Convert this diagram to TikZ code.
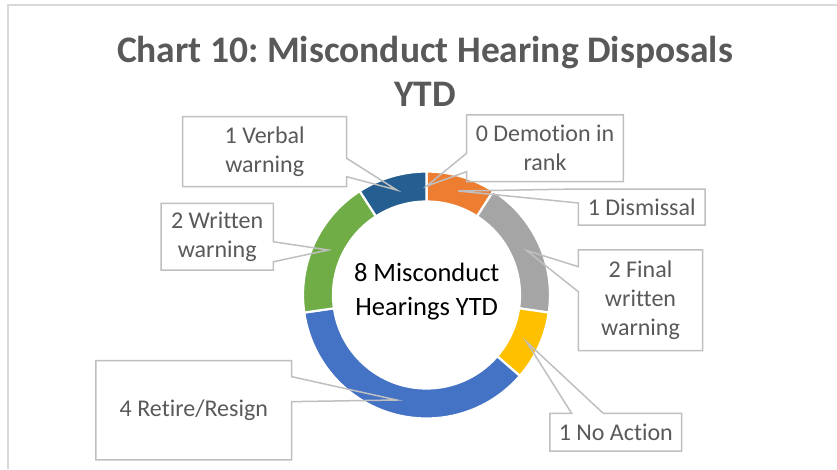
\documentclass[tikz,border=0pt]{standalone}
\usepackage{fontspec}
\setmainfont{Carlito}[Ligatures={NoCommon}]
\usetikzlibrary{calc}

\definecolor{sliceorange}{HTML}{ED7D31}
\definecolor{slicegray}{HTML}{A5A5A5}
\definecolor{slicegold}{HTML}{FFC000}
\definecolor{sliceblue}{HTML}{4472C4}
\definecolor{slicegreen}{HTML}{70AD47}
\definecolor{slicenavy}{HTML}{255E91}
\definecolor{labelgray}{HTML}{595959}
\definecolor{boxgray}{HTML}{BFBFBF}
\definecolor{framegray}{HTML}{D9D9D9}

% ring radii (one px wider than the visible ring, the white stroke eats it)
\newcommand\Rout{123.5}
\newcommand\Rin{93.5}
% annular sector: start angle, end angle, colour
\newcommand\donutslice[3]{%
  \path[seg, fill=#3] (#1:\Rout) arc[start angle=#1, end angle=#2, radius=\Rout]
    -- (#2:\Rin) arc[start angle=#2, end angle=#1, radius=\Rin] -- cycle;}

\tikzset{
  seg/.style={draw=white, line width=2.2pt, line join=miter},
  lbl/.style={font=\fontsize{24}{29}\selectfont, text=labelgray, align=center,
              inner sep=0pt, outer sep=0pt},
  callout/.style={draw=boxgray, line width=1.5pt, line join=miter},
  frameline/.style={draw=framegray, line width=2pt},
}

\begin{document}
\frenchspacing
\begin{tikzpicture}[x=1pt, y=-1pt]
\useasboundingbox (0,0) rectangle (837,469);

% chart frame (top and left edges)
\draw[frameline] (8,469) -- (8,5) -- (837,5);

% title
\node[font=\bfseries\fontsize{37.5}{44}\selectfont, text=labelgray, align=center,
      inner sep=0pt] (title) at (425,71) {Chart 10: Misconduct Hearing Disposals\\YTD};

% doughnut, clockwise from 12 o'clock, 360/11 degrees per hearing
\begin{scope}[shift={(426.5,295)}]
  \donutslice{-90}{-57.273}{sliceorange}
  \donutslice{-57.273}{8.182}{slicegray}
  \donutslice{8.182}{40.909}{slicegold}
  \donutslice{40.909}{171.818}{sliceblue}
  \donutslice{171.818}{237.273}{slicegreen}
  \donutslice{237.273}{270}{slicenavy}
\end{scope}

% centre caption
\node[font=\fontsize{26.5}{34}\selectfont, text=black, align=center, inner sep=0pt]
  (centre) at (426.7,291.5) {8 Misconduct\\Hearings YTD};

% data labels
\node[lbl, minimum width=164, minimum height=70] (verbal) at (264.7,151.7) {1 Verbal\\warning};
\node[lbl, minimum width=112.3, minimum height=66.7] (written) at (217.2,236.7) {2 Written\\warning};
\node[lbl, minimum width=156.7, minimum height=66.7] (demotion) at (545,148.3) {0 Demotion in\\rank};
\node[lbl, minimum width=126.7, minimum height=36] (dismissal) at (641.7,207) {1 Dismissal};
\node[lbl, minimum width=124.4, minimum height=100.7] (final) at (640.5,300.3) {2 Final\\written\\warning};
\node[lbl, minimum width=131.7, minimum height=37.7] (noaction) at (615.8,432.2) {1 No Action};
\node[lbl, minimum width=195.7, minimum height=99.3] (retire) at (193.8,410.3) {4 Retire/Resign};

% callout tips on the slices
\coordinate (verbaltip) at (396.7,190);
\coordinate (writtentip) at (328.3,250);
\coordinate (demotiontip) at (426.7,186);
\coordinate (dismissaltip) at (458.3,191);
\coordinate (finaltip) at (526.5,250.5);
\coordinate (noactiontip) at (526.7,342);
\coordinate (retiretip) at (396.7,400);

% callout outlines
\draw[callout] (verbal.north west) -- (verbal.north east)
  -- ($(verbal.north east)+(0,41.6)$) -- (verbaltip) -- ($(verbal.north east)+(0,60)$)
  -- (verbal.south east) -- (verbal.south west) -- cycle;
\draw[callout] (written.north west) -- (written.north east)
  -- ($(written.north east)+(0,38.4)$) -- (writtentip) -- ($(written.north east)+(0,58.4)$)
  -- (written.south east) -- (written.south west) -- cycle;
\draw[callout] (demotion.north west) -- (demotion.north east) -- (demotion.south east)
  -- (demotion.south west) -- ($(demotion.north west)+(0,56.7)$) -- (demotiontip)
  -- ($(demotion.north west)+(0,38.3)$) -- cycle;
\draw[callout] (dismissal.north west) -- (dismissal.north east) -- (dismissal.south east)
  -- (dismissal.south west) -- ($(dismissal.north west)+(0,14)$) -- (dismissaltip) -- cycle;
\draw[callout] (final.north west) -- (final.north east) -- (final.south east)
  -- (final.south west) -- ($(final.north west)+(0,41.7)$) -- (finaltip)
  -- ($(final.north west)+(0,16.7)$) -- cycle;
\draw[callout] (noaction.north west) -- ($(noaction.north west)+(21.7,0)$) -- (noactiontip)
  -- ($(noaction.north west)+(53.3,0)$) -- (noaction.north east) -- (noaction.south east)
  -- (noaction.south west) -- cycle;
\draw[callout] (retire.north west) -- (retire.north east)
  -- ($(retire.north east)+(0,16)$) -- (retiretip) -- ($(retire.north east)+(0,41)$)
  -- (retire.south east) -- (retire.south west) -- cycle;
\end{tikzpicture}
\end{document}
